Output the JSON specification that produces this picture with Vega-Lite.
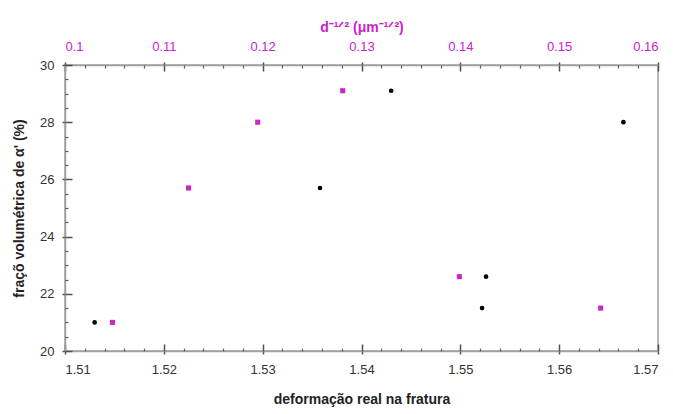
{
  "$schema": "https://vega.github.io/schema/vega-lite/v6.json",
  "width": 593,
  "height": 286,
  "autosize": "none",
  "padding": {"left": 65, "top": 65, "right": 15, "bottom": 63},
  "background": "white",
  "datasets": {
    "black": [
      {"def": 1.513, "frac": 21.0},
      {"def": 1.5358, "frac": 25.7},
      {"def": 1.543, "frac": 29.1},
      {"def": 1.5665, "frac": 28.0},
      {"def": 1.5526, "frac": 22.6},
      {"def": 1.5522, "frac": 21.5}
    ],
    "magenta": [
      {"d": 0.1048, "frac": 21.0},
      {"d": 0.1125, "frac": 25.7},
      {"d": 0.1195, "frac": 28.0},
      {"d": 0.1281, "frac": 29.1},
      {"d": 0.1399, "frac": 22.6},
      {"d": 0.1542, "frac": 21.5}
    ]
  },
  "config": {
    "view": {"stroke": "#a0a0a0", "strokeWidth": 1.5},
    "font": "Liberation Sans",
    "axis": {
      "domainColor": "#a0a0a0",
      "domainWidth": 1.5,
      "grid": false,
      "zindex": 1,
      "tickOpacity": 1,
      "labelFont": "Liberation Sans",
      "labelFontSize": 13,
      "labelColor": "#333333",
      "titleFont": "Liberation Sans",
      "titleFontSize": 14,
      "titleFontWeight": "bold",
      "titleColor": "#222222"
    }
  },
  "layer": [
    {
      "data": {"name": "black"},
      "mark": {"type": "point", "shape": "circle", "filled": true, "color": "#000000", "size": 22, "opacity": 1},
      "encoding": {
        "x": {
          "field": "def", "type": "quantitative",
          "scale": {"domain": [1.51, 1.57], "nice": false, "zero": false},
          "axis": {
            "orient": "bottom",
            "title": "deformação real na fratura",
            "values": [1.51, 1.52, 1.53, 1.54, 1.55, 1.56, 1.57],
            "format": ".2f",
            "tickColor": "#505050",
            "tickWidth": 1.5,
            "tickSize": 3,
            "zindex": 1,
            "labelPadding": 9,
            "titlePadding": 16
          }
        },
        "y": {
          "field": "frac", "type": "quantitative",
          "scale": {"domain": [20, 30], "nice": false, "zero": false},
          "axis": {
            "orient": "left",
            "title": "fraçõ volumétrica de α' (%)",
            "values": [20, 22, 24, 26, 28, 30],
            "tickColor": "#505050",
            "tickWidth": 1.5,
            "tickSize": 3,
            "zindex": 1,
            "labelPadding": 8,
            "titlePadding": 13
          }
        }
      }
    },
    {
      "data": {"name": "magenta"},
      "mark": {"type": "point", "shape": "square", "filled": true, "color": "#c828c8", "size": 26, "opacity": 1},
      "encoding": {
        "x": {
          "field": "d", "type": "quantitative",
          "scale": {"domain": [0.1, 0.16], "nice": false, "zero": false},
          "axis": {
            "orient": "top",
            "title": "d⁻¹ᐟ² (μm⁻¹ᐟ²)",
            "titleColor": "#cc22cc",
            "labelColor": "#cc22cc",
            "values": [0.1, 0.11, 0.12, 0.13, 0.14, 0.15, 0.16],
            "format": "~g",
            "tickColor": "#505050",
            "tickWidth": 1.5,
            "tickSize": 3,
            "zindex": 1,
            "labelPadding": 9,
            "titlePadding": 6
          }
        },
        "y": {
          "field": "frac", "type": "quantitative",
          "scale": {"domain": [20, 30], "nice": false, "zero": false},
          "axis": null
        }
      }
    },
    {
      "data": {"name": "black"},
      "mark": {"type": "point", "opacity": 0},
      "encoding": {
        "x": {
          "field": "def", "type": "quantitative",
          "scale": {"domain": [1.51, 1.57], "nice": false, "zero": false},
          "axis": {
            "orient": "bottom", "title": null, "labels": false, "domain": false,
            "values": [1.51, 1.52, 1.53, 1.54, 1.55, 1.56, 1.57],
            "tickColor": "#505050", "tickWidth": 1.5, "tickSize": -7, "zindex": 1
          }
        },
        "y": {
          "field": "frac", "type": "quantitative",
          "scale": {"domain": [20, 30], "nice": false, "zero": false},
          "axis": null
        }
      }
    },
    {
      "data": {"name": "black"},
      "mark": {"type": "point", "opacity": 0},
      "encoding": {
        "x": {
          "field": "def", "type": "quantitative",
          "scale": {"domain": [1.51, 1.57], "nice": false, "zero": false},
          "axis": {
            "orient": "bottom", "title": null, "labels": false, "domain": false,
            "values": [1.512, 1.514, 1.516, 1.518, 1.522, 1.524, 1.526, 1.528, 1.532, 1.534, 1.536, 1.538, 1.542, 1.544, 1.546, 1.548, 1.552, 1.554, 1.556, 1.558, 1.562, 1.564, 1.566, 1.568],
            "tickColor": "#606060", "tickWidth": 1.2, "tickSize": -3, "zindex": 1
          }
        },
        "y": {
          "field": "frac", "type": "quantitative",
          "scale": {"domain": [20, 30], "nice": false, "zero": false},
          "axis": null
        }
      }
    },
    {
      "data": {"name": "black"},
      "mark": {"type": "point", "opacity": 0},
      "encoding": {
        "x": {
          "field": "def", "type": "quantitative",
          "scale": {"domain": [1.51, 1.57], "nice": false, "zero": false},
          "axis": null
        },
        "y": {
          "field": "frac", "type": "quantitative",
          "scale": {"domain": [20, 30], "nice": false, "zero": false},
          "axis": {
            "orient": "left", "title": null, "labels": false, "domain": false,
            "values": [20, 22, 24, 26, 28, 30],
            "tickColor": "#505050", "tickWidth": 1.5, "tickSize": -7, "zindex": 1
          }
        }
      }
    },
    {
      "data": {"name": "black"},
      "mark": {"type": "point", "opacity": 0},
      "encoding": {
        "x": {
          "field": "def", "type": "quantitative",
          "scale": {"domain": [1.51, 1.57], "nice": false, "zero": false},
          "axis": null
        },
        "y": {
          "field": "frac", "type": "quantitative",
          "scale": {"domain": [20, 30], "nice": false, "zero": false},
          "axis": {
            "orient": "left", "title": null, "labels": false, "domain": false,
            "values": [20.5, 21, 21.5, 22.5, 23, 23.5, 24.5, 25, 25.5, 26.5, 27, 27.5, 28.5, 29, 29.5],
            "tickColor": "#606060", "tickWidth": 1.2, "tickSize": -3, "zindex": 1
          }
        }
      }
    },
    {
      "data": {"name": "magenta"},
      "mark": {"type": "point", "opacity": 0},
      "encoding": {
        "x": {
          "field": "d", "type": "quantitative",
          "scale": {"domain": [0.1, 0.16], "nice": false, "zero": false},
          "axis": {
            "orient": "top", "title": null, "labels": false, "domain": false,
            "values": [0.1, 0.11, 0.12, 0.13, 0.14, 0.15, 0.16],
            "tickColor": "#505050", "tickWidth": 1.5, "tickSize": -6, "zindex": 1
          }
        },
        "y": {
          "field": "frac", "type": "quantitative",
          "scale": {"domain": [20, 30], "nice": false, "zero": false},
          "axis": null
        }
      }
    },
    {
      "data": {"name": "magenta"},
      "mark": {"type": "point", "opacity": 0},
      "encoding": {
        "x": {
          "field": "d", "type": "quantitative",
          "scale": {"domain": [0.1, 0.16], "nice": false, "zero": false},
          "axis": {
            "orient": "top", "title": null, "labels": false, "domain": false,
            "values": [0.102, 0.104, 0.106, 0.108, 0.112, 0.114, 0.116, 0.118, 0.122, 0.124, 0.126, 0.128, 0.132, 0.134, 0.136, 0.138, 0.142, 0.144, 0.146, 0.148, 0.152, 0.154, 0.156, 0.158],
            "tickColor": "#606060", "tickWidth": 1.2, "tickSize": -3, "zindex": 1
          }
        },
        "y": {
          "field": "frac", "type": "quantitative",
          "scale": {"domain": [20, 30], "nice": false, "zero": false},
          "axis": null
        }
      }
    }
  ],
  "resolve": {"scale": {"x": "independent", "y": "independent"}, "axis": {"x": "independent", "y": "independent"}}
}
